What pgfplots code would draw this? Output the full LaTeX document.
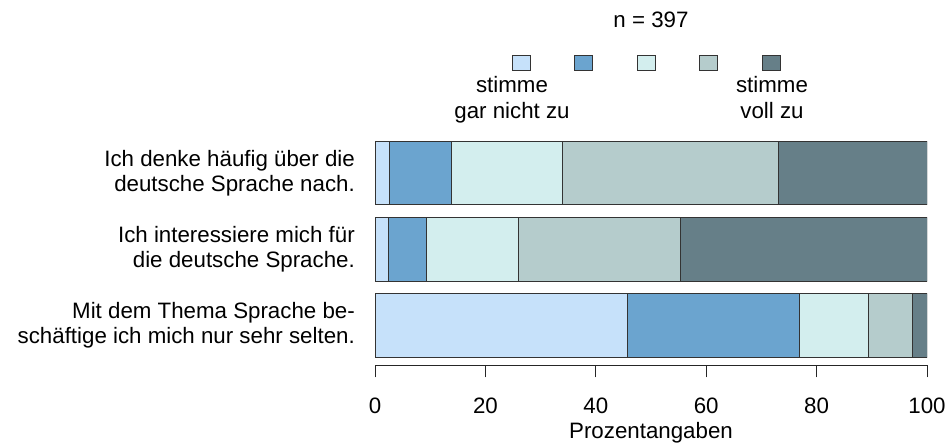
\documentclass[border=0pt]{standalone}
\usepackage{pgfplots}
\pgfplotsset{compat=1.18}
\usepackage{fontspec}
\setmainfont{Liberation Sans}
\definecolor{c1}{HTML}{C6E1FA}
\definecolor{c2}{HTML}{6BA4CF}
\definecolor{c3}{HTML}{D3EEEE}
\definecolor{c4}{HTML}{B5CCCC}
\definecolor{c5}{HTML}{667F88}
\definecolor{bd}{HTML}{333333}
\begin{document}
\fontsize{22.3bp}{25bp}\selectfont
\begin{tikzpicture}[x=1bp,y=1bp]
\path[use as bounding box] (0,0) rectangle (949,445);
\begin{axis}[
  at={(375bp,79.5bp)}, anchor=south west,
  scale only axis, width=552bp, height=230.5bp,
  xbar stacked, bar width=63.5bp,
  xmin=0, xmax=100, ymin=0.477, ymax=3.5,
  axis x line*=bottom,
  y axis line style={draw=none},
  x axis line style={line width=0.8bp, black!85},
  xtick={0,20,40,60,80,100},
  tick align=outside, major tick length=12bp,
  xtick style={line width=0.8bp, black!85},
  ytick={1,2,3}, ytick style={draw=none},
  yticklabels={{Mit dem Thema Sprache be-\\schäftige ich mich nur sehr selten.},{Ich interessiere mich für\\die deutsche Sprache.},{Ich denke häufig über die\\deutsche Sprache nach.}},
  yticklabel style={align=right, anchor=east, inner sep=0pt, xshift=-8bp, font=\fontsize{22.3bp}{25bp}\selectfont},
  /pgf/number format/assume math mode=true,
  xticklabel style={anchor=base, inner sep=0pt, yshift=-36.5bp, font=\fontsize{22.3bp}{25bp}\selectfont},
  xlabel={Prozentangaben},
  xlabel style={at={(axis description cs:0.5,0)}, anchor=base, inner sep=0pt, yshift=-73.5bp},
  every axis plot/.append style={draw=bd, line width=0.8bp},
]
\addplot[fill=c1] coordinates {(45.8,1) (2.4,2) (2.6,3)};
\addplot[fill=c2] coordinates {(31.1,1) (7.0,2) (11.2,3)};
\addplot[fill=c3] coordinates {(12.5,1) (16.5,2) (20.2,3)};
\addplot[fill=c4] coordinates {(7.9,1) (29.4,2) (39.0,3)};
\addplot[fill=c5] coordinates {(2.7,1) (44.7,2) (27.0,3)};
\end{axis}
\foreach \cx/\col in {521/c1,583.5/c2,646/c3,708.5/c4,771/c5}{
  \draw[fill=\col, draw=bd, line width=0.8bp] (\cx-9,374.5) rectangle (\cx+9,390);
}
\node[anchor=base, inner sep=0pt] at (651,417) {n = 397};
\node[anchor=base, inner sep=0pt] at (512,352) {stimme};
\node[anchor=base, inner sep=0pt] at (512,326) {gar nicht zu};
\node[anchor=base, inner sep=0pt] at (772,352) {stimme};
\node[anchor=base, inner sep=0pt] at (772,326) {voll zu};
\end{tikzpicture}
\end{document}
